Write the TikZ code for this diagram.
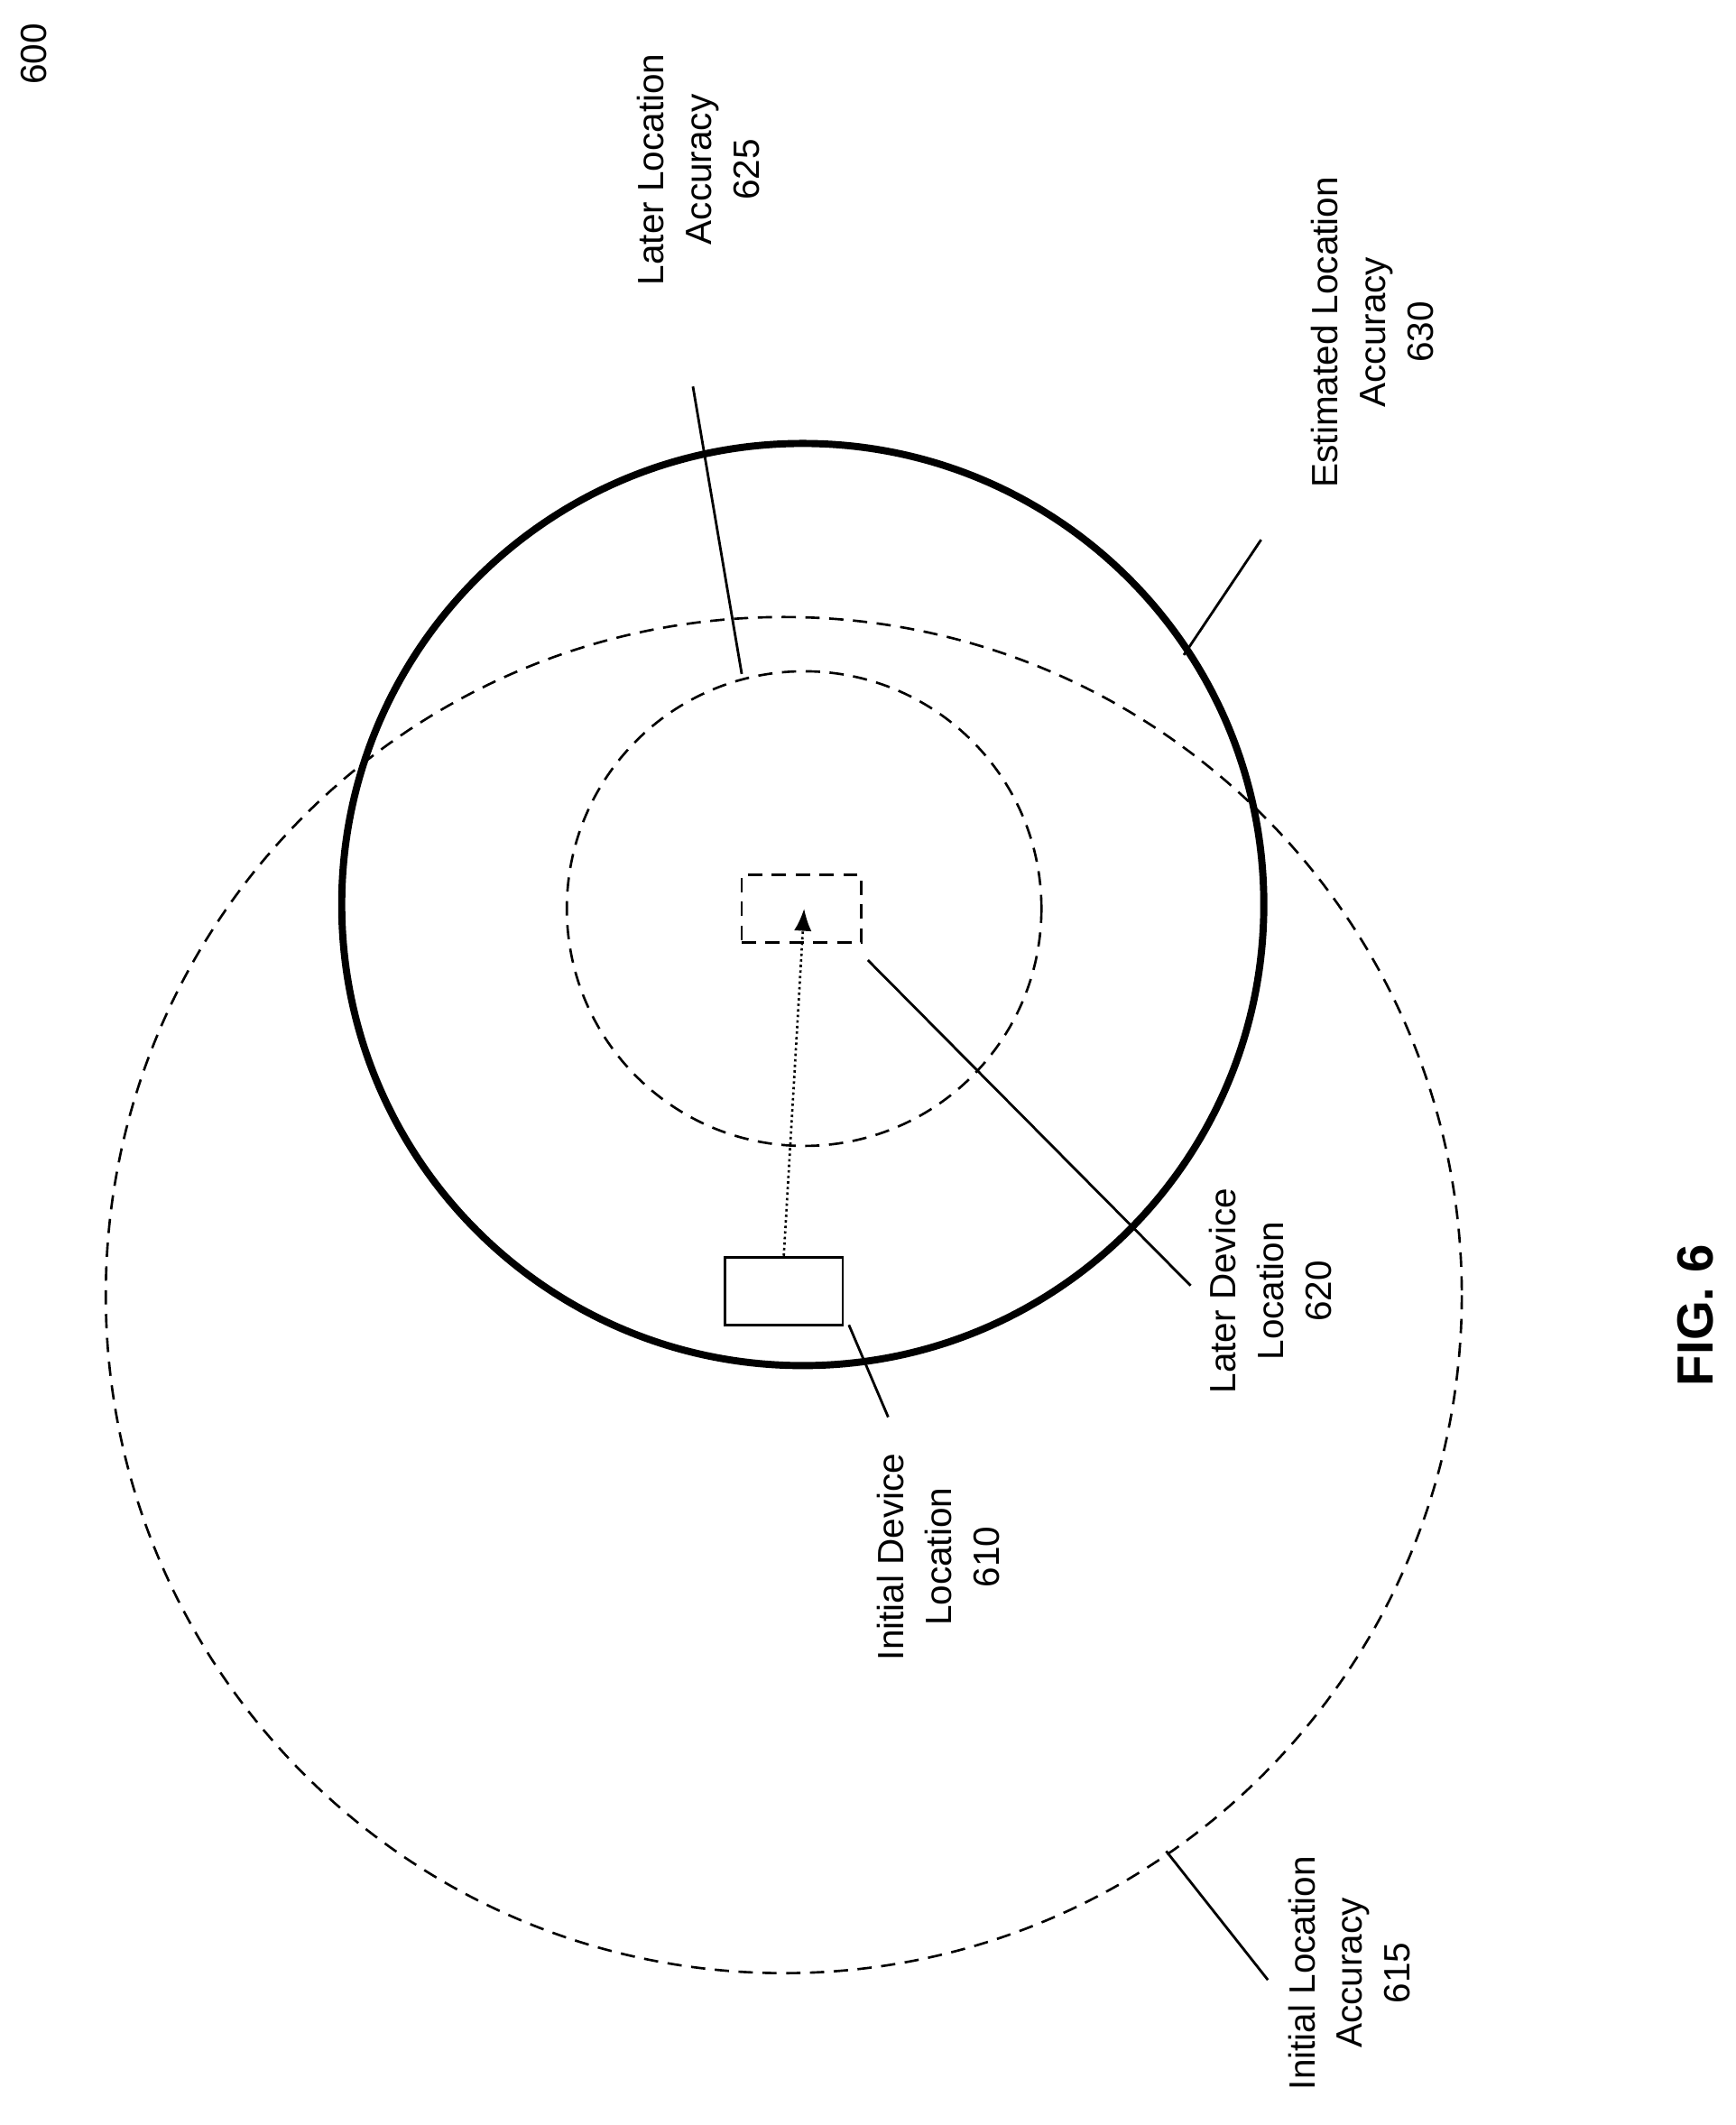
\documentclass[tikz,border=0pt]{standalone}
\usepackage{fontspec}
\setmainfont{Liberation Sans}
\usetikzlibrary{arrows.meta}
\begin{document}
\begin{tikzpicture}[x=0.03cm,y=-0.03cm,
  lbl/.style={rotate=90,align=center,font=\fontsize{23}{30}\selectfont,inner sep=0},
  dsh/.style={line width=1.5pt,dash pattern=on 9pt off 6pt},
  lead/.style={line width=1.6pt}]
\useasboundingbox (0,0) rectangle (1280,1567);
\draw[dsh] (578,955) circle (500);
\draw[line width=4.5pt] (592,667) circle (340);
\draw[dsh] (593,670) circle (175);
\node[draw,dsh,minimum width=88*0.03cm,minimum height=50*0.03cm,inner sep=0] (later) at (591,670) {};
\node[draw,line width=1.6pt,minimum width=87*0.03cm,minimum height=50*0.03cm,inner sep=0] (init) at (578,952) {};
\draw[line width=1.5pt,dotted,-{Latex[length=14pt,width=11pt]}] (init.north) -- (593,670);
\coordinate (c625) at (547,497);
\coordinate (c630) at (873,483);
\coordinate (c620) at (640,708);
\coordinate (c610) at (626,977);
\coordinate (c615) at (860,1365);
\node[lbl] (t625) at (515,125) {Later Location\\Accuracy\\625};
\node[lbl] (t630) at (1012,245) {Estimated Location\\Accuracy\\630};
\node[lbl] (t620) at (937,952) {Later Device\\Location\\620};
\node[lbl] (t610) at (692,1148) {Initial Device\\Location\\610};
\node[lbl] (t615) at (995,1455) {Initial Location\\Accuracy\\615};
\node[lbl] (t600) at (25,40) {600};
\node[rotate=90,font=\fontsize{32}{38}\selectfont\bfseries,inner sep=0] (fig) at (1250,970) {FIG. 6};
\draw[lead] (c625) -- (511,285);
\draw[lead] (c630) -- (930,398);
\draw[lead] (c620) -- (878,948);
\draw[lead] (c610) -- (655,1045);
\draw[lead] (c615) -- (935,1460);
\end{tikzpicture}
\end{document}
